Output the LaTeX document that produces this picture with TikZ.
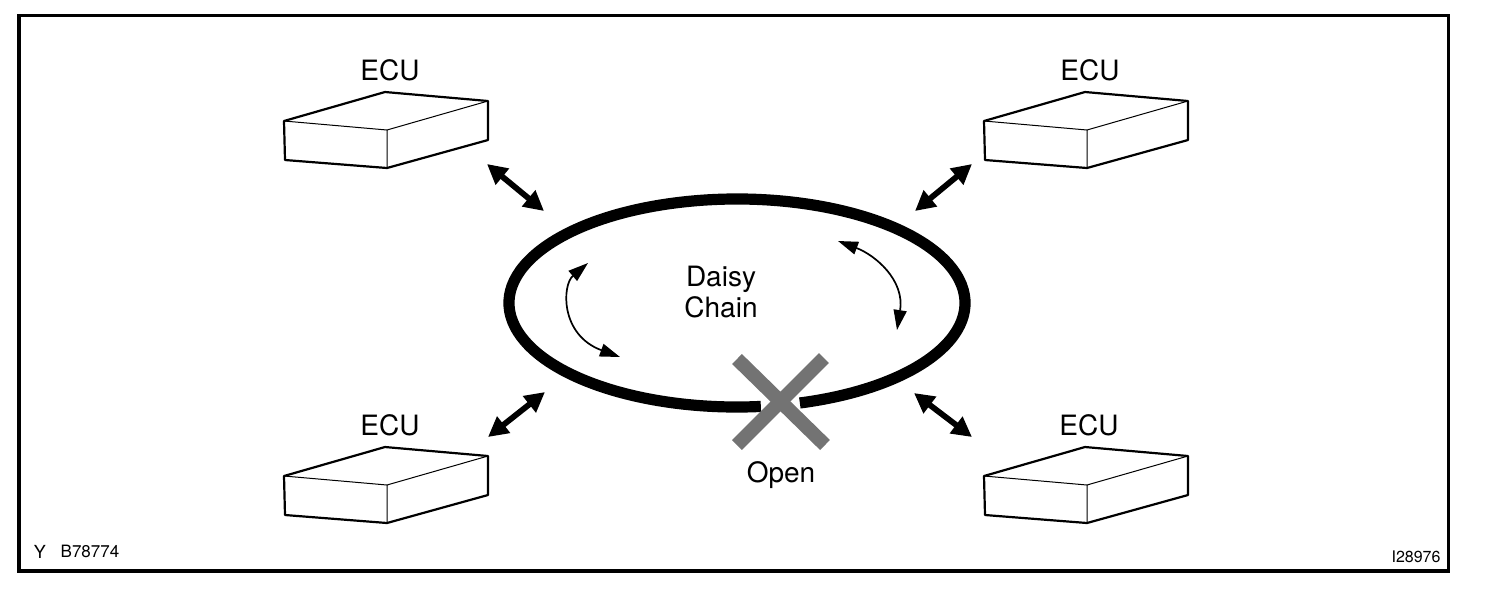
\documentclass[tikz,border=0pt]{standalone}
\usepackage{fontspec}
\setmainfont{TeX Gyre Heros}
\usetikzlibrary{arrows.meta,calc}

\begin{document}
\begin{tikzpicture}[
  x=0.5pt,y=-0.5pt,
  every node/.style={font=\fontsize{14}{15.5}\selectfont,inner sep=0pt},
  tag/.style={font=\fontsize{8.5}{10}\selectfont,anchor=base},
  frame/.style={line width=1.65pt},
  ring/.style={line width=5.6pt},
  link/.style={{Triangle[length=10pt,width=10pt]}-{Triangle[length=10pt,width=10pt]},
    line width=2.9pt},
  flow/.style={{Triangle[length=10pt,width=6.5pt]}-{Triangle[length=10pt,width=6.5pt]},
    line width=0.85pt},
  cross/.style={line width=7pt,draw=black!55},
  ecubox/.pic={
    \draw[line width=1.1pt,line join=round] (-103,-9) -- (-2,-38) -- (101,-29)
      -- (101,10) -- (0,38) -- (-102,30) -- cycle;
    \draw[line width=0.5pt] (-103,-9) -- (0,0) -- (101,-29) (0,0) -- (0,38);
  }
]
\useasboundingbox (0,0) rectangle (1504,602);
\draw[frame] (19,15.5) rectangle (1448.5,571);

% ECU units
\pic (boxTL) at (387,130) {ecubox};
\pic (boxTR) at (1087,130) {ecubox};
\pic (boxBL) at (387,485) {ecubox};
\pic (boxBR) at (1087,485) {ecubox};
\node[anchor=base] (ecuTL) at (390,80) {ECU};
\node[anchor=base] (ecuTR) at (1090,80) {ECU};
\node[anchor=base] (ecuBL) at (390,435) {ECU};
\node[anchor=base] (ecuBR) at (1089,435) {ECU};

% daisy chain ring, open at the bottom
\coordinate (ring) at (737,303);
\draw[ring] ($(ring)+(286:114pt and 52pt)$)
  arc[start angle=286,end angle=636,x radius=114pt,y radius=52pt];
\node[align=center,anchor=north] (chain) at (721,266) {Daisy\\Chain};

% break in the line
\coordinate (open) at (781,402);
\draw[cross] ($(open)+(-44,-43)$) -- ($(open)+(44,43)$);
\draw[cross] ($(open)+(43,-44)$) -- ($(open)+(-44,43)$);
\node[anchor=base] (openlabel) at (781,482) {Open};

% links between ECUs and ring
\coordinate (linkTLa) at (487,164);
\coordinate (linkTLb) at (544,211);
\coordinate (linkTRa) at (972,164);
\coordinate (linkTRb) at (915,211);
\coordinate (linkBLa) at (545,392);
\coordinate (linkBLb) at (488,437);
\coordinate (linkBRa) at (914,393);
\coordinate (linkBRb) at (972,437);
\draw[link] (linkTLa) -- (linkTLb);
\draw[link] (linkTRa) -- (linkTRb);
\draw[link] (linkBLa) -- (linkBLb);
\draw[link] (linkBRa) -- (linkBRb);

% signal direction
\coordinate (flowLa) at (588,263);
\coordinate (flowLb) at (620,357);
\coordinate (flowRa) at (838,241);
\coordinate (flowRb) at (897,330);
\draw[flow] (flowLa) .. controls (562,285) and (560,335) .. (flowLb);
\draw[flow] (flowRa) .. controls (875,255) and (905,280) .. (flowRb);

% figure codes
\node[tag,font=\fontsize{9}{10}\selectfont] (codeY) at (40,558) {Y};
\node[tag] (codeB) at (90,557) {B78774};
\node[tag,font=\fontsize{8}{9}\selectfont] (codeI) at (1416,562) {I28976};
\end{tikzpicture}
\end{document}
